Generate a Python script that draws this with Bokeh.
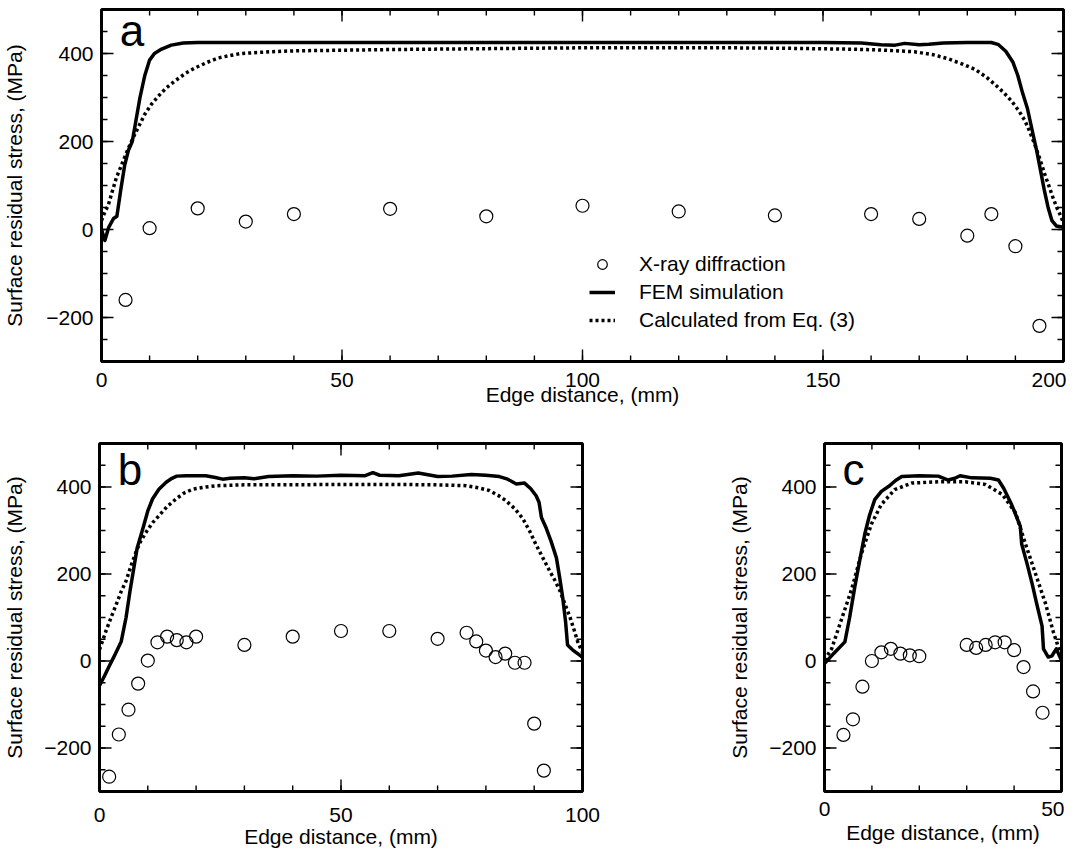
from bokeh.plotting import figure
from bokeh.models import FixedTicker, Range1d, Label, Legend, LegendItem
from bokeh.layouts import column, row
from bokeh.embed import file_html
from bokeh.resources import INLINE

FONT = "Liberation Sans"

# ---------------- Panel a (200 mm) ----------------
a_fem_x = [0, 0.7, 1.5, 2.5, 3.2, 4.0, 4.8, 5.6, 6.4, 7.2, 8.0, 9.0, 10.0, 11.0, 12.5, 14.5, 17, 20, 40, 80,
           120, 150, 158, 162, 165, 167, 170, 172, 175, 180, 185, 186.5, 188, 189.5, 190.5, 191.5, 192.5,
           193.5, 194.5, 195.3, 196, 196.8, 197.6, 198.5, 200]
a_fem_y = [0, -25, 5, 25, 30, 90, 145, 180, 200, 250, 300, 350, 385, 400, 410, 419, 424, 425, 425, 425,
           425, 425, 424, 420, 419, 423, 420, 421, 424, 425, 425, 420, 405, 380, 350, 310, 275,
           225, 175, 130, 90, 50, 20, 8, 5]

a_eq_x = [0, 0.7, 1.4, 2.2, 3.1, 4.0, 4.8, 6.0, 7.0, 8.0, 9.0, 10.4, 11.8, 13.5, 15.2, 17.5, 19.4, 22, 24.3,
          27, 29, 35, 40, 60, 80, 100, 130, 141, 155, 162, 169, 173, 176, 179, 181.6, 184, 185.7, 187.5,
          189.2, 190.7, 192, 193, 194, 195, 196.1, 197, 197.8, 198.6, 199.2, 200]
a_eq_y = [20, 40, 55, 85, 118, 142, 164, 195, 218, 240, 262, 285, 303, 322, 337, 355, 367, 380, 390,
          396, 400, 404, 406, 409, 411, 413, 413, 412, 410, 408, 404, 397, 388, 376, 364, 346, 330, 312,
          292, 270, 247, 222, 194, 163, 126, 98, 73, 50, 36, 15]

a_xrd_x = [5, 10, 20, 30, 40, 60, 80, 100, 120, 140, 160, 170, 180, 185, 190, 195]
a_xrd_y = [-160, 3, 48, 18, 35, 47, 30, 54, 41, 32, 35, 24, -14, 35, -38, -219]

# ---------------- Panel b (100 mm) ----------------
b_fem_x = [0, 1, 2, 3, 4.5, 5.5, 6.3, 6.9, 7.8, 9, 10, 11, 12.3, 13.8, 15, 16, 18, 22, 24, 25.5, 27, 30,
           32, 35, 40, 45, 50, 55, 56.6, 58, 62, 66, 70, 73, 77, 80, 82.8, 84.5, 86.3, 88, 89.3, 90.4,
           91, 91.5, 92.5, 93.5, 94.6, 95.3, 95.9, 96.5, 96.9, 98, 99.7, 100]
b_fem_y = [-57, -35, -12, 10, 45, 100, 160, 200, 260, 305, 345, 373, 395, 411, 420, 425, 426, 426, 422, 418,
           420, 421, 419, 424, 426, 425, 427, 426, 433, 427, 426, 432, 424, 425, 429, 427, 424, 418, 407,
           409, 396, 380, 365, 330, 305, 275, 237, 190, 146, 90, 37, 25, 11, 8]

b_eq_x = [0, 1.4, 2.5, 3.5, 4.5, 5.5, 6.5, 7.6, 8.6, 9.7, 11, 12.4, 14, 15.9, 17.5, 19.3, 22, 24.2, 30, 60,
          70, 75.9, 78.5, 80.7, 82.5, 84.1, 86, 87.6, 89, 90.4, 91.8, 93.2, 94.3, 95.3, 96.4, 97.4, 98.3,
          99.1, 100]
b_eq_y = [26, 71, 103, 131, 160, 184, 218, 252, 277, 297, 318, 335, 355, 373, 386, 395, 400, 403, 405, 406,
          405, 403, 398, 392, 381, 369, 350, 328, 300, 267, 237, 207, 185, 162, 130, 101, 70,
          41, 20]

b_xrd_x = [2, 4, 6, 8, 10, 12, 14, 16, 18, 20, 30, 40, 50, 60, 70, 76, 78, 80, 82, 84, 86, 88, 90, 92]
b_xrd_y = [-266, -169, -112, -52, 1, 43, 56, 48, 43, 56, 37, 56, 69, 69, 51, 65, 45, 24, 9, 17, -4, -4,
           -144, -252]

# ---------------- Panel c (50 mm) ----------------
c_fem_x = [0, 2, 4.3, 5.3, 6.4, 7.5, 8.5, 9.5, 10.6, 12, 13.5, 15, 16.3, 20, 24, 26.1, 27.5, 28.6, 31.1, 35,
           36.7, 37.8, 39.5, 41.3, 41.6, 42.7, 43.8, 44.8, 45.9, 46.2, 47.2, 48.0, 48.9, 50]
c_fem_y = [-6, 18, 44, 100, 171, 235, 292, 335, 371, 390, 401, 415, 424, 426, 425, 416, 420, 426, 421, 420,
           416, 397, 359, 310, 269, 225, 178, 130, 80, 28, 9, 12, 28, 1]

c_eq_x = [0, 1.5, 3.6, 5.7, 7.8, 9.9, 12, 14.8, 18.4, 24, 29.7, 33.9, 37.5, 40.3, 42.4, 44.5, 46.6, 48.3, 49.7]
c_eq_y = [2, 28, 96, 164, 247, 315, 360, 394, 409, 412, 412, 406, 383, 341, 269, 201, 133, 66, 20]

c_xrd_x = [4, 6, 8, 10, 12, 14, 16, 18, 20, 30, 32, 34, 36, 38, 40, 42, 44, 46]
c_xrd_y = [-170, -134, -59, 0, 20, 28, 17, 13, 11, 37, 30, 37, 43, 43, 25, -14, -70, -119]

# ---------------- Axes ticks / labels ----------------
y_lim = (-300, 500)
y_major = [-200, 0, 200, 400]
y_minor = list(range(-300, 501, 50))
a_x_major = [0, 50, 100, 150, 200]
a_x_minor = list(range(0, 201, 10))
b_x_major = [0, 50, 100]
b_x_minor = list(range(0, 101, 10))
c_x_major = [0, 50]
c_x_minor = list(range(0, 51, 10))

x_label = "Edge distance, (mm)"
y_label = "Surface residual stress, (MPa)"
legend_labels = ["X-ray diffraction", "FEM simulation", "Calculated from Eq. (3)"]

MAJ, MIN = 12, 6  # inner tick lengths in pixels


def style_axis(ax):
    ax.axis_line_color = None
    ax.major_tick_line_color = None
    ax.minor_tick_line_color = None
    ax.major_tick_in = 0
    ax.major_tick_out = 0
    ax.minor_tick_in = 0
    ax.minor_tick_out = 0
    ax.major_label_text_font = FONT
    ax.major_label_text_font_size = "21px"
    ax.major_label_text_color = "black"
    ax.axis_label_text_font = FONT
    ax.axis_label_text_font_size = "21px"
    ax.axis_label_text_font_style = "normal"
    ax.axis_label_text_color = "black"


def inner_ticks(p, xmax, xmaj, xmin, fw, fh):
    y0, y1 = y_lim
    dy = (y1 - y0) / fh   # data units per pixel (vertical)
    dx = xmax / fw        # data units per pixel (horizontal)
    kw = dict(line_color="black", line_width=1.4)
    for ticks, ln in ((xmin, MIN), (xmaj, MAJ)):
        n = len(ticks)
        p.segment(x0=ticks, y0=[y0] * n, x1=ticks, y1=[y0 + ln * dy] * n, **kw)
        p.segment(x0=ticks, y0=[y1] * n, x1=ticks, y1=[y1 - ln * dy] * n, **kw)
    for ticks, ln in ((y_minor, MIN), (y_major, MAJ)):
        n = len(ticks)
        p.segment(x0=[0] * n, y0=ticks, x1=[ln * dx] * n, y1=ticks, **kw)
        p.segment(x0=[xmax] * n, y0=ticks, x1=[xmax - ln * dx] * n, y1=ticks, **kw)


def make_panel(xmax, xmaj, xmin, fw, fh, bl, br, bt, bb, fem_x, fem_y, eq_x, eq_y, xrd_x, xrd_y,
               letter, lx, ly, xl_std, xa_std, yl_std, ya_std):
    p = figure(x_range=Range1d(0, xmax), y_range=Range1d(*y_lim),
               frame_width=fw, frame_height=fh,
               min_border_left=bl, min_border_right=br, min_border_top=bt, min_border_bottom=bb,
               output_backend="svg", toolbar_location=None)
    p.xgrid.visible = False
    p.ygrid.visible = False
    p.outline_line_color = "black"
    p.outline_line_width = 3
    p.background_fill_color = "white"
    p.border_fill_color = "white"

    xa = p.xaxis[0]
    xa.ticker = FixedTicker(ticks=xmaj, minor_ticks=xmin)
    style_axis(xa)
    xa.axis_label = x_label
    xa.major_label_standoff = xl_std
    xa.axis_label_standoff = xa_std

    ya = p.yaxis[0]
    ya.ticker = FixedTicker(ticks=y_major, minor_ticks=y_minor)
    style_axis(ya)
    ya.axis_label = y_label
    ya.major_label_standoff = yl_std
    ya.axis_label_standoff = ya_std

    inner_ticks(p, xmax, xmaj, xmin, fw, fh)

    r_fem = p.line(fem_x, fem_y, line_color="black", line_width=3.5, line_join="round")
    r_eq = p.line(eq_x, eq_y, line_color="black", line_width=3.5, line_dash="3 3")
    r_xrd = p.scatter(xrd_x, xrd_y, marker="circle", size=13, fill_color="white", fill_alpha=0,
                      line_color="black", line_width=1.2)

    p.add_layout(Label(x=lx, y=ly, text=letter, text_font=FONT, text_font_size="44px",
                       text_color="black", text_baseline="alphabetic"))
    return p, r_xrd, r_fem, r_eq


pa, ra_xrd, ra_fem, ra_eq = make_panel(200, a_x_major, a_x_minor, 962, 352, 92, 3, 9, 58,
                                       a_fem_x, a_fem_y, a_eq_x, a_eq_y, a_xrd_x, a_xrd_y,
                                       "a", 3.8, 452, 11, -7, 8, 17)

legend = Legend(items=[LegendItem(label=legend_labels[0], renderers=[ra_xrd]),
                       LegendItem(label=legend_labels[1], renderers=[ra_fem]),
                       LegendItem(label=legend_labels[2], renderers=[ra_eq])],
                location=(488, 29), padding=0, margin=0, spacing=4,
                glyph_width=26, glyph_height=24, label_height=24, label_standoff=24,
                label_text_font=FONT, label_text_font_size="21px", label_text_color="black",
                border_line_color=None, background_fill_alpha=0)
pa.add_layout(legend)

pb, _, _, _ = make_panel(100, b_x_major, b_x_minor, 483, 348, 92, 143, 24, 64,
                         b_fem_x, b_fem_y, b_eq_x, b_eq_y, b_xrd_x, b_xrd_y,
                         "b", 3.8, 440, 16, 0, 8, 15)

pc, _, _, _ = make_panel(50, c_x_major, c_x_minor, 237, 348, 88, 3, 23, 65,
                         c_fem_x, c_fem_y, c_eq_x, c_eq_y, c_xrd_x, c_xrd_y,
                         "c", 3.8, 440, 10, 2, 8, 15)

layout = column(pa, row(pb, pc, spacing=0), spacing=0)

with open("out.html", "w") as f:
    f.write(file_html(layout, INLINE))
